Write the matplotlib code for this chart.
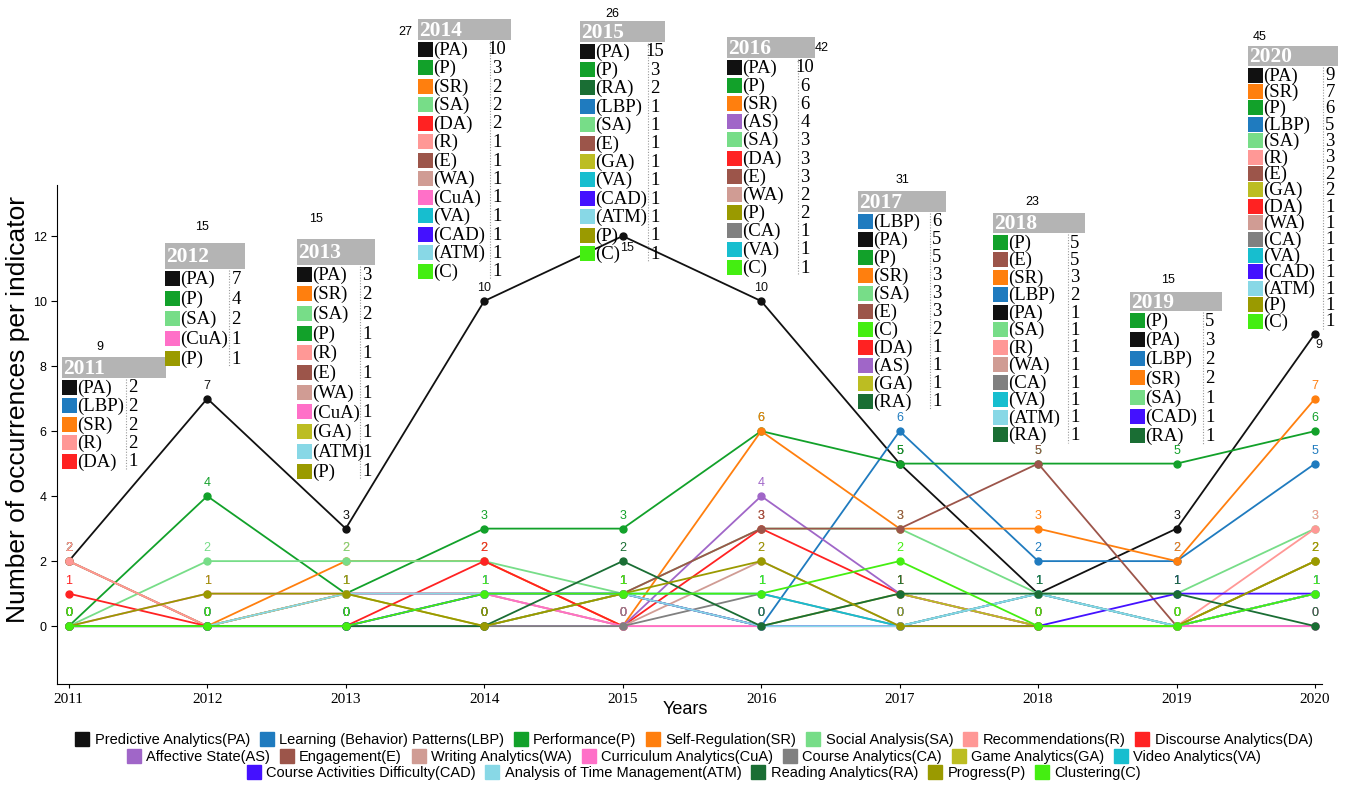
import numpy as np
import matplotlib
matplotlib.use("Agg")
import matplotlib.pyplot as plt
from matplotlib.patches import Rectangle
from matplotlib.lines import Line2D

# ── data ─────────────────────────────────────────────────────────────────────
years = [2011, 2012, 2013, 2014, 2015, 2016, 2017, 2018, 2019, 2020]
totals = [9, 15, 15, 27, 26, 42, 31, 23, 15, 45]

codes = ["PA", "LBP", "P", "SR", "SA", "R", "DA", "AS", "E", "WA", "CuA",
         "CA", "GA", "VA", "CAD", "ATM", "RA", "Pr", "C"]
names = ["Predictive Analytics(PA)", "Learning (Behavior) Patterns(LBP)",
         "Performance(P)", "Self-Regulation(SR)", "Social Analysis(SA)",
         "Recommendations(R)", "Discourse Analytics(DA)", "Affective State(AS)",
         "Engagement(E)", "Writing Analytics(WA)", "Curriculum Analytics(CuA)",
         "Course Analytics(CA)", "Game Analytics(GA)", "Video Analytics(VA)",
         "Course Activities Difficulty(CAD)", "Analysis of Time Management(ATM)",
         "Reading Analytics(RA)", "Progress(P)", "Clustering(C)"]
box_names = {"Pr": "P"}

pa  = [2, 7, 3, 10, 15, 10, 5, 1, 3, 9]
lbp = [2, 0, 0, 0, 1, 0, 6, 2, 2, 5]
perf = [0, 4, 1, 3, 3, 6, 5, 5, 5, 6]
sr  = [2, 0, 2, 2, 0, 6, 3, 3, 2, 7]
sa  = [0, 2, 2, 2, 1, 3, 3, 1, 1, 3]
rec = [2, 0, 1, 1, 0, 0, 0, 1, 0, 3]
da  = [1, 0, 0, 2, 0, 3, 1, 0, 0, 1]
aff = [0, 0, 0, 0, 0, 4, 1, 0, 0, 0]
eng = [0, 0, 1, 1, 1, 3, 3, 5, 0, 2]
wa  = [0, 0, 1, 1, 0, 2, 0, 1, 0, 1]
cua = [0, 1, 1, 1, 0, 0, 0, 0, 0, 0]
ca  = [0, 0, 0, 0, 0, 1, 0, 1, 0, 1]
ga  = [0, 0, 1, 0, 1, 0, 1, 0, 0, 2]
va  = [0, 0, 0, 1, 1, 1, 0, 1, 0, 1]
cad = [0, 0, 0, 1, 1, 0, 0, 0, 1, 1]
atm = [0, 0, 1, 1, 1, 0, 0, 1, 0, 1]
ra  = [0, 0, 0, 0, 2, 0, 1, 1, 1, 0]
prog = [0, 1, 1, 0, 1, 2, 0, 0, 0, 2]
clus = [0, 0, 0, 1, 1, 1, 2, 0, 0, 1]
series = [pa, lbp, perf, sr, sa, rec, da, aff, eng, wa, cua, ca, ga, va,
          cad, atm, ra, prog, clus]

palette = {
    "PA": "#111111", "LBP": "#1f7bbf", "P": "#12a12a", "SR": "#ff7f0e",
    "SA": "#77dd88", "R": "#ff9896", "DA": "#ff2222", "AS": "#a066c8",
    "E": "#9c554a", "WA": "#d09c94", "CuA": "#ff70c8", "CA": "#808080",
    "GA": "#bcbd22", "VA": "#17becf", "CAD": "#4411ff", "ATM": "#88d8e6",
    "RA": "#1a6e34", "Pr": "#9a9a00", "C": "#44ee11",
}

# per-year indicator tables
box_2011 = [("PA", 2), ("LBP", 2), ("SR", 2), ("R", 2), ("DA", 1)]
box_2012 = [("PA", 7), ("P", 4), ("SA", 2), ("CuA", 1), ("Pr", 1)]
box_2013 = [("PA", 3), ("SR", 2), ("SA", 2), ("P", 1), ("R", 1), ("E", 1),
            ("WA", 1), ("CuA", 1), ("GA", 1), ("ATM", 1), ("Pr", 1)]
box_2014 = [("PA", 10), ("P", 3), ("SR", 2), ("SA", 2), ("DA", 2), ("R", 1),
            ("E", 1), ("WA", 1), ("CuA", 1), ("VA", 1), ("CAD", 1), ("ATM", 1),
            ("C", 1)]
box_2015 = [("PA", 15), ("P", 3), ("RA", 2), ("LBP", 1), ("SA", 1), ("E", 1),
            ("GA", 1), ("VA", 1), ("CAD", 1), ("ATM", 1), ("Pr", 1), ("C", 1)]
box_2016 = [("PA", 10), ("P", 6), ("SR", 6), ("AS", 4), ("SA", 3), ("DA", 3),
            ("E", 3), ("WA", 2), ("Pr", 2), ("CA", 1), ("VA", 1), ("C", 1)]
box_2017 = [("LBP", 6), ("PA", 5), ("P", 5), ("SR", 3), ("SA", 3), ("E", 3),
            ("C", 2), ("DA", 1), ("AS", 1), ("GA", 1), ("RA", 1)]
box_2018 = [("P", 5), ("E", 5), ("SR", 3), ("LBP", 2), ("PA", 1), ("SA", 1),
            ("R", 1), ("WA", 1), ("CA", 1), ("VA", 1), ("ATM", 1), ("RA", 1)]
box_2019 = [("P", 5), ("PA", 3), ("LBP", 2), ("SR", 2), ("SA", 1), ("CAD", 1),
            ("RA", 1)]
box_2020 = [("PA", 9), ("SR", 7), ("P", 6), ("LBP", 5), ("SA", 3), ("R", 3),
            ("E", 2), ("GA", 2), ("DA", 1), ("WA", 1), ("CA", 1), ("VA", 1),
            ("CAD", 1), ("ATM", 1), ("Pr", 1), ("C", 1)]
boxes = [box_2011, box_2012, box_2013, box_2014, box_2015, box_2016,
         box_2017, box_2018, box_2019, box_2020]

# ── layout (pixels): header left, top, width, height, row step, count dx, total x, total y
box_layout = [
    (62, 357, 104, 21, 18.5, 71, 100, 347),
    (165, 243, 80, 26, 20.2, 71, 202, 227),
    (297, 239, 78, 26, 19.7, 70, 316, 219),
    (418, 19, 93, 21, 18.5, 79, 405, 32),
    (580, 21, 85, 21, 18.4, 75, 612, 14),
    (727, 37, 88, 21, 18.2, 78, 822, 48),
    (858, 191, 88, 21, 18.0, 79, 903, 180),
    (993, 213, 92, 20, 17.5, 82, 1032, 202),
    (1130, 292, 92, 19, 19.3, 80, 1168, 280),
    (1248, 46, 90, 20, 16.4, 82, 1260, 37),
]
Y_CAP = 12
LABEL_BELOW = {("PA", 2015), ("PA", 2020)}
W, H = 1346, 785

fig = plt.figure(figsize=(W / 100, H / 100), dpi=100)
fig.patch.set_facecolor("white")
ax = fig.add_axes([57 / W, 1 - 684 / H, (1322 - 57) / W, (684 - 185) / H])

for code, vals in zip(codes, series):
    col = palette[code]
    shown = np.minimum(np.array(vals), Y_CAP)
    ax.plot(years, shown, color=col, lw=1.3, marker="o", ms=5, zorder=2)
    for yr, v, s in zip(years, vals, shown):
        below = (code, yr) in LABEL_BELOW
        ax.annotate(str(v), (yr, s), xytext=(3 if below else 0, -4 if below else 5),
                    textcoords="offset points", ha="center",
                    va="top" if below else "bottom", fontsize=9,
                    color=col, family="Liberation Sans", zorder=3)

ax.set_xlim(2010.915, 2020.05)
ax.set_ylim(-1.78, 13.57)
ax.set_yticks(range(0, 13, 2))
ax.set_xticks(years)
ax.set_xticklabels([str(y) for y in years], family="Liberation Serif", fontsize=11)
ax.tick_params(axis="y", labelsize=9, length=4)
ax.tick_params(axis="x", length=3)
for lab in ax.get_yticklabels():
    lab.set_family("Liberation Sans")
for side in ("top", "right"):
    ax.spines[side].set_visible(False)
ax.set_ylabel("Number of occurrences per indicator", fontsize=19,
              family="Liberation Sans")
ax.yaxis.set_label_coords(-0.021, 0.55)
ax.set_xlabel("Years", fontsize=13, family="Liberation Sans")
ax.xaxis.set_label_coords(0.497, -0.035)

# ── yearly tables drawn on a pixel overlay ──────────────────────────────────
ov = fig.add_axes([0, 0, 1, 1], facecolor="none")
ov.set_xlim(0, W)
ov.set_ylim(H, 0)
ov.axis("off")

for yr, tot, rows, lay in zip(years, totals, boxes, box_layout):
    left, top, bw, bh, step, cdx, tx, ty = lay
    ov.add_patch(Rectangle((left, top), bw, bh, color="#b4b4b4", lw=0))
    ov.text(left + 1, top + bh / 2 + 1, str(yr), color="white", fontsize=15.5,
            fontweight="bold", family="Liberation Serif", va="center", ha="left")
    ov.text(tx, ty, str(tot), fontsize=9,
            family="Liberation Sans", ha="center", va="center")
    y0 = top + bh + 9
    for i, (code, cnt) in enumerate(rows):
        yc = y0 + i * step
        ov.add_patch(Rectangle((left, yc - 7.5), 15, 15, color=palette[code], lw=0))
        ov.text(left + 15, yc + 1, "(%s)" % box_names.get(code, code), fontsize=13.5,
                family="Liberation Serif", va="center", ha="left")
        ov.text(left + cdx, yc + 1, str(cnt), fontsize=13.5,
                family="Liberation Serif", va="center", ha="center")
    y_end = y0 + (len(rows) - 1) * step
    ov.plot([left + cdx - 7] * 2, [y0 - 8, y_end + 8], color="#999999",
            lw=0.8, ls=(0, (1, 1.5)))

# ── legend, three centred rows ───────────────────────────────────────────────
rows_idx = [range(0, 7), range(7, 14), range(14, 19)]
row_y = [1 - 740 / H, 1 - 757 / H, 1 - 773 / H]
for idx, yy in zip(rows_idx, row_y):
    handles = [Line2D([0], [0], marker="s", ls="", ms=10,
                      color=palette[codes[i]], label=names[i]) for i in idx]
    fig.legend(handles=handles, loc="center", bbox_to_anchor=(0.516, yy),
               ncol=len(handles), frameon=False,
               prop={"family": "Liberation Sans", "size": 10.5},
               handlelength=0.8, handletextpad=0.45, columnspacing=0.75,
               borderpad=0, borderaxespad=0)

fig.savefig("out.png", dpi=100, facecolor="white")
